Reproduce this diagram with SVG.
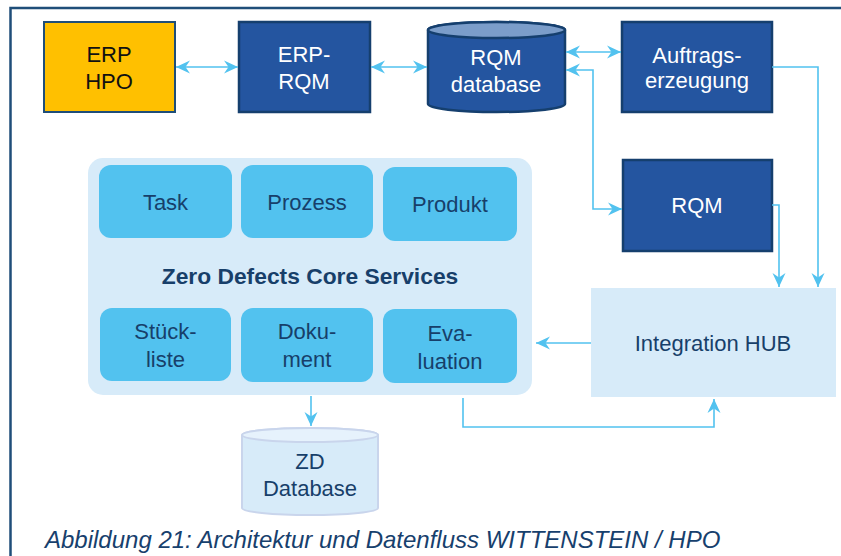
<svg xmlns="http://www.w3.org/2000/svg" width="841" height="556" viewBox="0 0 841 556">
  <style>
    text { font-family: "Liberation Sans", Arial, sans-serif; text-anchor: middle; }
    .dark rect, .dark path.body { fill: #2455a0; stroke: #153f6e; stroke-width: 2.5; }
    .dark text { fill: #ffffff; font-size: 22px; }
    .svc rect { fill: #52c2ef; }
    .svc text { fill: #173f6a; font-size: 22px; }
    .light text { fill: #173f6a; font-size: 22px; }
    .conn { fill: none; stroke: #52c2ef; stroke-width: 1.6; }
    .frame { fill: none; stroke: #1f4e79; stroke-width: 2.5; }
  </style>
  <defs>
    <marker id="arrow" markerUnits="userSpaceOnUse" markerWidth="15" markerHeight="14" viewBox="0 0 15 14" refX="14" refY="7" orient="auto-start-reverse">
      <path d="M0,0.5 L14,7 L0,13.5 L4.5,7 z" fill="#52c2ef"/>
    </marker>
  </defs>

  <rect width="841" height="556" fill="#ffffff"/>
  <!-- outer frame: top and left edges -->
  <path class="frame" d="M10.5,556 L10.5,8 L841,8"/>

  <!-- top row -->
  <g id="erp-hpo">
    <rect x="44" y="22" width="131" height="90" fill="#ffc000" stroke="#1f4e79" stroke-width="2"/>
    <text x="109" y="62" font-size="22" fill="#111111">ERP</text>
    <text x="109" y="89" font-size="22" fill="#111111">HPO</text>
  </g>
  <g id="erp-rqm" class="dark">
    <rect x="239" y="22" width="131" height="90"/>
    <text x="304" y="62">ERP-</text>
    <text x="304" y="89">RQM</text>
  </g>
  <g id="rqm-database" class="dark">
    <path class="body" d="M428,30 A68.5,8 0 0 1 565,30 L565,104 A68.5,8 0 0 1 428,104 Z"/>
    <ellipse cx="496.5" cy="30" rx="68.5" ry="8" fill="#7b9dca" stroke="#153f6e" stroke-width="2.5"/>
    <text x="496" y="65">RQM</text>
    <text x="496" y="92">database</text>
  </g>
  <g id="auftragserzeugung" class="dark">
    <rect x="622" y="22" width="150" height="90"/>
    <text x="697" y="63">Auftrags-</text>
    <text x="697" y="88">erzeugung</text>
  </g>
  <g id="rqm" class="dark">
    <rect x="623" y="160" width="149" height="91"/>
    <text x="697" y="213">RQM</text>
  </g>

  <!-- core services container -->
  <g id="zero-defects-core-services">
    <rect x="88" y="158" width="444" height="237" rx="15" fill="#d7ebf9"/>
    <text x="310" y="284" font-size="22.8" font-weight="bold" fill="#173f6a">Zero Defects Core Services</text>
  </g>
  <g id="task" class="svc">
    <rect x="99" y="165" width="133" height="73" rx="12"/>
    <text x="165.5" y="210">Task</text>
  </g>
  <g id="prozess" class="svc">
    <rect x="241" y="165" width="132" height="73" rx="12"/>
    <text x="307" y="210">Prozess</text>
  </g>
  <g id="produkt" class="svc">
    <rect x="383" y="167" width="134" height="74" rx="12"/>
    <text x="450" y="212">Produkt</text>
  </g>
  <g id="stueckliste" class="svc">
    <rect x="100" y="308" width="131" height="73" rx="12"/>
    <text x="165.5" y="339">Stück-</text>
    <text x="165.5" y="367">liste</text>
  </g>
  <g id="dokument" class="svc">
    <rect x="241" y="308" width="132" height="74" rx="12"/>
    <text x="307" y="339">Doku-</text>
    <text x="307" y="367">ment</text>
  </g>
  <g id="evaluation" class="svc">
    <rect x="383" y="309" width="134" height="74" rx="12"/>
    <text x="450" y="341">Eva-</text>
    <text x="450" y="369">luation</text>
  </g>

  <g id="integration-hub" class="light">
    <rect x="591" y="288" width="245" height="109" fill="#d7ebf9"/>
    <text x="713" y="351">Integration HUB</text>
  </g>

  <g id="zd-database" class="light">
    <path d="M242,435 A68,7 0 0 1 378,435 L378,508 A68,7 0 0 1 242,508 Z" fill="#d7ebf9" stroke="#c9d5ec" stroke-width="2"/>
    <ellipse cx="310" cy="435" rx="68" ry="7" fill="#e6f2fc" stroke="#c9d5ec" stroke-width="2"/>
    <text x="310" y="469">ZD</text>
    <text x="310" y="496">Database</text>
  </g>

  <!-- connectors -->
  <g id="connectors">
    <path class="conn" d="M176,67 L238,67" marker-start="url(#arrow)" marker-end="url(#arrow)"/>
    <path class="conn" d="M371,67 L427,67" marker-start="url(#arrow)" marker-end="url(#arrow)"/>
    <path class="conn" d="M566,52 L621,52" marker-start="url(#arrow)" marker-end="url(#arrow)"/>
    <path class="conn" d="M566,70 L593,70 L593,209 L622,209" marker-start="url(#arrow)" marker-end="url(#arrow)"/>
    <path class="conn" d="M772,67 L818,67 L818,287" marker-end="url(#arrow)"/>
    <path class="conn" d="M772,205 L779,205 L779,287" marker-end="url(#arrow)"/>
    <path class="conn" d="M591,343 L536,343" marker-end="url(#arrow)"/>
    <path class="conn" d="M311,396 L311,426" marker-end="url(#arrow)"/>
    <path class="conn" d="M463,398 L463,427 L714,427 L714,399" marker-end="url(#arrow)"/>
  </g>

  <text x="45" y="548" font-size="24" font-style="italic" fill="#17406d" style="text-anchor:start">Abbildung 21: Architektur und Datenfluss WITTENSTEIN / HPO</text>
</svg>
